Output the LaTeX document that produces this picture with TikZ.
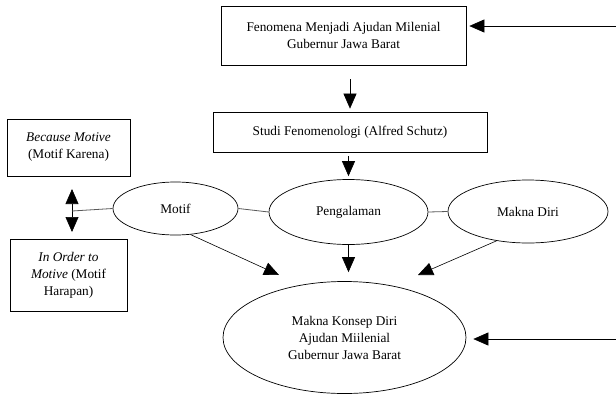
\documentclass[tikz,border=0pt]{standalone}
\usepackage{fontspec}
\setmainfont{Liberation Serif}
\usetikzlibrary{shapes.geometric, arrows.meta}

\begin{document}
\begin{tikzpicture}[x=1pt, y=-1pt, font=\fontsize{13.3}{17}\selectfont,
  kotak/.style={draw, line width=0.7pt, inner sep=0pt, align=center},
  elips/.style={draw, ellipse, line width=0.7pt, inner sep=0pt, align=center},
  panah/.style={line width=0.6pt, -{Triangle[length=15pt, width=13pt]}},
  garis/.style={line width=0.8pt, black!65}]
  \useasboundingbox (0,0) rectangle (616,394);

  % Nodes
  \node[kotak, minimum width=245, minimum height=59] (fen) at (343.5,35.5)
    {Fenomena Menjadi Ajudan Milenial\\Gubernur Jawa Barat};
  \node[kotak, minimum width=274, minimum height=40] (studi) at (350,132)
    {Studi Fenomenologi (Alfred Schutz)};

  % Left boxes
  \node[kotak, minimum width=123, minimum height=57] (bm) at (68.5,147.5)
    {\textit{Because Motive}\\(Motif Karena)};
  \node[kotak, minimum width=117, minimum height=72] (iom) at (68.5,275)
    {\textit{In Order to}\\\textit{Motive} (Motif\\Harapan)};

  % Ellipses
  \node[elips, minimum width=125, minimum height=53] (motif) at (175.5,208.5) {Motif};
  \node[elips, minimum width=159, minimum height=65] (peng) at (348.5,212) {Pengalaman};
  \node[elips, minimum width=160, minimum height=63] (diri) at (528,211.5) {Makna Diri};
  \node[elips, minimum width=243, minimum height=112] (makna) at (344.5,337.5)
    {Makna Konsep Diri\\Ajudan Miilenial\\Gubernur Jawa Barat};

  % Free ends
  \coordinate (kanan1) at (616,26);
  \coordinate (kanan2) at (616,339);
  \coordinate (sambung) at (72,211);
  \coordinate (atas) at (72,189);
  \coordinate (bawah) at (72,232);
  \coordinate (ujung1) at (279,275);
  \coordinate (ujung2) at (418,275);

  % Arrows
  \draw[panah, shorten >=3pt] (kanan1) -- (kanan1 -| fen.east);
  \draw[panah, shorten <=14pt, shorten >=3pt] (fen.south -| studi.north) -- (studi.north);
  \draw[panah, shorten <=4pt, shorten >=3pt] (studi.south -| peng.north) -- (peng.north);
  \draw[panah, {Triangle[length=15pt, width=13pt]}-{Triangle[length=15pt, width=13pt]}] (atas) -- (bawah);
  \draw[garis] (sambung) -- (motif.west);
  \draw[garis] (motif.east) -- (peng.west);
  \draw[garis] (peng.east) -- (diri.west);
  \draw[panah] (motif.300) -- (ujung1);
  \draw[panah, shorten >=9pt] (peng.south) -- (peng.south |- makna.north);
  \draw[panah] (diri.223) -- (ujung2);
  \draw[panah, shorten >=7pt] (kanan2) -- (kanan2 -| makna.east);
\end{tikzpicture}
\end{document}
